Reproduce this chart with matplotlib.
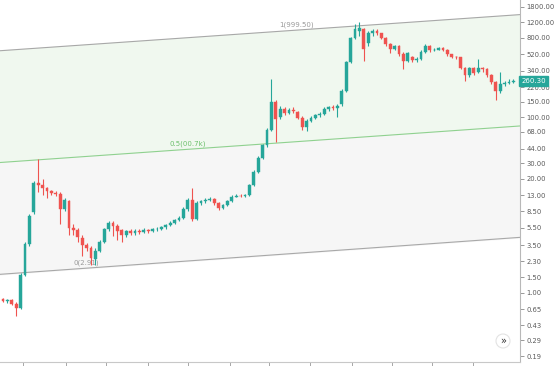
import numpy as np
import matplotlib
matplotlib.use("Agg")
import matplotlib.pyplot as plt
from matplotlib.patches import Circle

# ---- data ----
opens = [0.85, 0.80, 0.83, 0.75, 0.68, 1.6, 3.6, 8.3, 18, 17,
         15.5, 14.5, 13.8, 13.5, 9, 11, 5.5, 5.2, 4.2, 3.5,
         3.2, 2.4, 3.0, 3.8, 5.3, 6.3, 5.8, 5.2, 4.6, 5.0,
         4.8, 5.1, 4.9, 5.2, 5.0, 5.3, 5.4, 5.6, 5.9, 6.3,
         6.7, 7.2, 9, 11.5, 7, 10.5, 11, 11.5, 11.8, 10.5,
         9.2, 10, 11, 12.5, 12.8, 12.6, 13, 17, 24, 34,
         48, 72, 150, 100, 125, 112, 120, 115, 98, 78,
         90, 98, 105, 108, 125, 130, 128, 140, 200, 420,
         800, 950, 1000, 700, 900, 960, 900, 800, 680, 600,
         640, 520, 440, 480, 450, 460, 560, 640, 580, 590,
         620, 590, 520, 490, 480, 360, 300, 360, 330, 360,
         350, 300, 250, 200, 240, 245, 255]
highs = [0.88, 0.86, 0.85, 0.78, 1.7, 3.8, 8.0, 19, 33, 20,
         16, 15, 14.5, 14, 12, 11.5, 6.0, 5.5, 4.5, 3.7,
         3.4, 3.2, 4.0, 5.5, 6.6, 6.5, 6.0, 5.4, 5.2, 5.3,
         5.3, 5.4, 5.5, 5.4, 5.5, 5.6, 5.8, 6.1, 6.5, 7.0,
         7.5, 9.5, 12, 15.5, 11, 11.5, 12, 12.3, 12, 10.8,
         10.3, 11.3, 13, 13.2, 13.2, 13.4, 17.5, 25, 36, 50,
         75, 270, 155, 135, 132, 128, 130, 118, 102, 95,
         102, 110, 115, 130, 135, 138, 140, 210, 440, 820,
         1150, 1200, 1050, 950, 1000, 1000, 920, 820, 700, 660,
         660, 560, 560, 500, 480, 580, 690, 660, 620, 630,
         630, 600, 530, 500, 490, 370, 370, 370, 460, 370,
         360, 310, 260, 330, 260, 270, 275]
lows = [0.78, 0.76, 0.72, 0.55, 0.66, 1.55, 3.4, 7.8, 14, 13,
        12, 13, 12.8, 6, 8.5, 4.5, 4.5, 3.8, 2.6, 3.0,
        2.1, 2.1, 2.9, 3.7, 5.0, 4.4, 4.0, 3.8, 4.3, 4.6,
        4.6, 4.7, 4.8, 4.8, 4.9, 5.1, 5.2, 5.4, 5.7, 6.1,
        6.5, 7.0, 8.5, 6.5, 6.8, 10, 10.5, 11.2, 10, 8.8,
        9.0, 9.8, 10.8, 12.2, 12.3, 12.4, 12.8, 16.5, 23, 33,
        46, 70, 52, 95, 105, 110, 112, 95, 72, 70,
        88, 95, 100, 105, 118, 120, 100, 135, 195, 410,
        780, 850, 440, 650, 850, 870, 780, 640, 540, 580,
        500, 350, 430, 430, 430, 450, 540, 560, 570, 580,
        570, 500, 470, 460, 350, 260, 290, 300, 320, 330,
        290, 240, 155, 190, 225, 238, 245]
closes = [0.80, 0.83, 0.75, 0.68, 1.6, 3.6, 7.5, 18, 17, 15.5,
          14.5, 13.8, 13.5, 9, 11.5, 5.5, 5.2, 4.3, 3.5, 3.2,
          2.5, 3.0, 3.8, 5.3, 6.3, 5.8, 5.0, 4.5, 5.0, 4.8,
          5.1, 4.9, 5.2, 5.0, 5.3, 5.4, 5.6, 5.9, 6.3, 6.7,
          7.2, 9, 11.5, 7, 10.5, 11, 11.5, 11.8, 10.5, 9.2,
          10, 11, 12.5, 12.8, 12.6, 13, 17, 24, 34, 48,
          72, 150, 95, 125, 112, 120, 118, 98, 78, 90,
          98, 105, 110, 125, 130, 128, 135, 200, 420, 800,
          1000, 1050, 600, 900, 960, 900, 800, 680, 600, 640,
          520, 440, 540, 450, 460, 560, 640, 580, 590, 620,
          590, 520, 490, 480, 360, 300, 360, 320, 360, 350,
          300, 250, 200, 240, 245, 255, 260.3]

# parallel channel anchors (candle index, price)
channel_x = [-1.0, 118.0]
channel_top = [570.0, 1480.0]
channel_mid = [30.4, 79.8]
channel_bot = [1.62, 4.3]
channel_labels = ["1(999.50)", "0.5(00.7k)", "0(2.91)"]

price_ticks = [1800, 1200, 800, 520, 340, 220, 150, 100, 68, 44, 30, 20,
               13, 8.5, 5.5, 3.5, 2.3, 1.5, 1.0, 0.65, 0.43, 0.29, 0.19]
last_price = 260.30

# ---- figure ----
W, H = 554, 366
fig = plt.figure(figsize=(W / 100, H / 100), dpi=100)
ax = fig.add_axes([0, 4 / H, 520 / W, 362 / H])
ax.set_yscale("log")
ax.set_facecolor("white")

x = np.arange(len(closes))
ax.set_xlim(-0.68, 117.5)
ax.set_ylim(0.163, 2162)

# channel fills and lines
ax.fill_between(channel_x, channel_mid, channel_top, color="#f0f8ef", zorder=0)
ax.fill_between(channel_x, channel_bot, channel_mid, color="#f6f6f6", zorder=0)
ax.plot(channel_x, channel_top, color="#a8a8a8", lw=0.8, zorder=1)
ax.plot(channel_x, channel_mid, color="#8fd18f", lw=0.8, zorder=1)
ax.plot(channel_x, channel_bot, color="#a8a8a8", lw=0.8, zorder=1)

def line_at(xv, ys):
    t = (xv - channel_x[0]) / (channel_x[1] - channel_x[0])
    return 10 ** (np.log10(ys[0]) + t * (np.log10(ys[1]) - np.log10(ys[0])))

for xi, ys, lab, col in [(66.6, channel_top, channel_labels[0], "#9a9a9a"),
                         (42.0, channel_mid, channel_labels[1], "#6cc06c"),
                         (19.0, channel_bot, channel_labels[2], "#9a9a9a")]:
    ax.annotate(lab, (xi, line_at(xi, ys)), xytext=(0, 1.5),
                textcoords="offset points", ha="center", va="bottom",
                fontsize=5.0, color=col, zorder=2)

# candles
up_c, dn_c = "#26a69a", "#ef5350"
o = np.array(opens); c = np.array(closes)
hi = np.array(highs); lo = np.array(lows)
cols = [up_c if cc >= oo else dn_c for oo, cc in zip(o, c)]
ax.vlines(x, lo, hi, colors=cols, lw=0.8, zorder=3)
bottoms = np.minimum(o, c)
tops = np.maximum(o, c)
tops = np.maximum(tops, bottoms * 1.012)
ax.bar(x, tops - bottoms, bottom=bottoms, width=0.66, color=cols,
       edgecolor=cols, linewidth=0.3, zorder=4)

# axes styling
for s in ["top", "left"]:
    ax.spines[s].set_visible(False)
ax.spines["right"].set_color("#b8b8b8")
ax.spines["right"].set_linewidth(0.8)
ax.spines["bottom"].set_color("#c8c8c8")
ax.spines["bottom"].set_linewidth(0.8)

ax.yaxis.tick_right()
ax.set_yticks(price_ticks)
ax.set_yticklabels([f"{p:.2f}" for p in price_ticks])
ax.yaxis.set_minor_locator(matplotlib.ticker.NullLocator())
ax.tick_params(axis="y", direction="out", length=3, width=0.6, color="#888888",
               labelsize=4.9, labelcolor="#5a5a5a", pad=1.5)

xt = [(px - 3) / 4.4 for px in [23, 66, 106, 148, 188, 230, 269, 310, 352, 392, 432, 473]]
ax.set_xticks(xt)
ax.set_xticklabels([])
ax.tick_params(axis="x", direction="out", length=3, width=0.6, color="#999999")

# last price tag (drawn over the axis labels like the original)
ax.annotate(f"{last_price:.2f}", xy=(1.0, last_price), xycoords=("axes fraction", "data"),
            xytext=(1, 0), textcoords="offset points", ha="left", va="center",
            fontsize=5.0, color="white",
            bbox=dict(boxstyle="square,pad=0.3", fc="#26a69a", ec="#26a69a"),
            zorder=10, annotation_clip=False)

# scroll button
circ = Circle((503, 366 - 341), 7, transform=None, facecolor="white",
              edgecolor="#e3e3e3", lw=0.8, zorder=20)
fig.patches.append(circ)
fig.text(503 / W, 1 - 341 / H, "»", ha="center", va="center", fontsize=7,
         color="#333333", zorder=21)

fig.savefig("out.png", dpi=100)
